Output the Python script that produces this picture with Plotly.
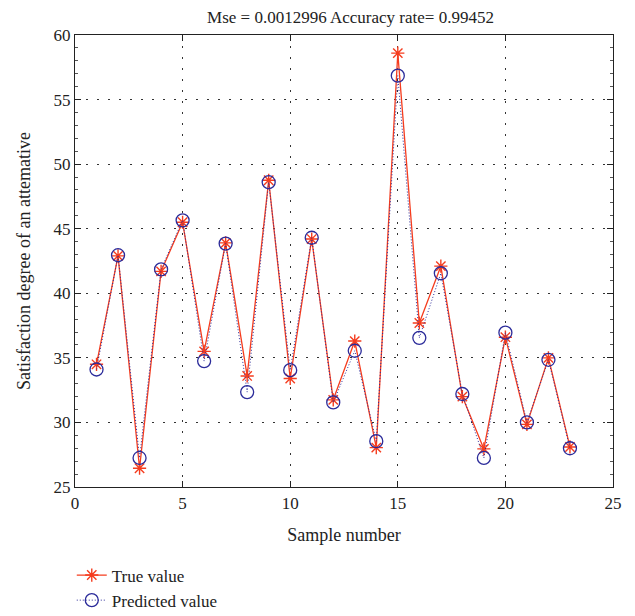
import plotly.graph_objects as go

samples = list(range(1, 24))
true_vals = [34.5, 42.9, 26.45, 41.7, 45.5, 35.5, 43.9, 33.6, 48.75, 33.4, 44.2, 31.75,
             36.3, 28.05, 58.6, 37.7, 42.1, 32.0, 27.95, 36.6, 29.85, 35.0, 28.1]
pred_vals = [34.1, 42.95, 27.25, 41.85, 45.65, 34.75, 43.85, 32.35, 48.6, 34.05, 44.3, 31.55,
             35.55, 28.55, 56.85, 36.55, 41.55, 32.2, 27.25, 36.95, 30.0, 34.85, 28.0]

FONT = "Liberation Serif"
RED = "#f53c1e"
BLUE = "#2b2b9a"
INK = "#222"

fig = go.Figure()
fig.add_trace(go.Scatter(
    x=samples, y=true_vals, name="True value", mode="lines+markers",
    line=dict(color=RED, width=1.3),
    marker=dict(symbol="asterisk-open", size=11, color=RED, line=dict(color=RED, width=1.4)),
))
fig.add_trace(go.Scatter(
    x=samples, y=pred_vals, name="Predicted value", mode="lines+markers",
    line=dict(color=BLUE, width=1, dash="1px,2px"),
    marker=dict(symbol="circle-open", size=13, color=BLUE, line=dict(color=BLUE, width=1.3)),
))

axis_common = dict(
    showline=True, linecolor=INK, linewidth=1.4, mirror="allticks",
    ticks="inside", ticklen=6, tickcolor=INK,
    showgrid=True, gridcolor="#333", griddash="1.5px,9.5px", gridwidth=1.2,
    zeroline=False,
    tickfont=dict(family=FONT, size=17, color=INK),
)

fig.update_xaxes(range=[0, 25], dtick=5, tick0=0,
                 title=dict(text="Sample number", font=dict(family=FONT, size=18, color=INK), standoff=16),
                 **axis_common)
fig.update_yaxes(range=[25, 60], dtick=5, tick0=25,
                 title=dict(text="Satisfaction degree of an attemative", font=dict(family=FONT, size=18, color=INK), standoff=18),
                 minor=dict(ticks="inside", ticklen=3, dtick=1, tickcolor="#555", showgrid=False),
                 **axis_common)

fig.update_layout(
    width=635, height=616,
    margin=dict(l=75, r=22, t=35, b=129, autoexpand=False),
    plot_bgcolor="white", paper_bgcolor="white",
    title=dict(text="Mse = 0.0012996 Accuracy rate= 0.99452", x=0.552, xanchor="center",
               y=0.972, yanchor="middle", font=dict(family=FONT, size=17, color=INK)),
    legend=dict(x=-0.006, xanchor="left", xref="paper", y=0.095, yanchor="top", yref="container",
                font=dict(family=FONT, size=17, color=INK),
                bgcolor="rgba(0,0,0,0)", tracegroupgap=0, itemwidth=30),
    showlegend=True,
)

fig.write_html("out.html", config={"displayModeBar": False},
               post_script="document.body.style.margin='0';document.documentElement.style.overflow='hidden';")
